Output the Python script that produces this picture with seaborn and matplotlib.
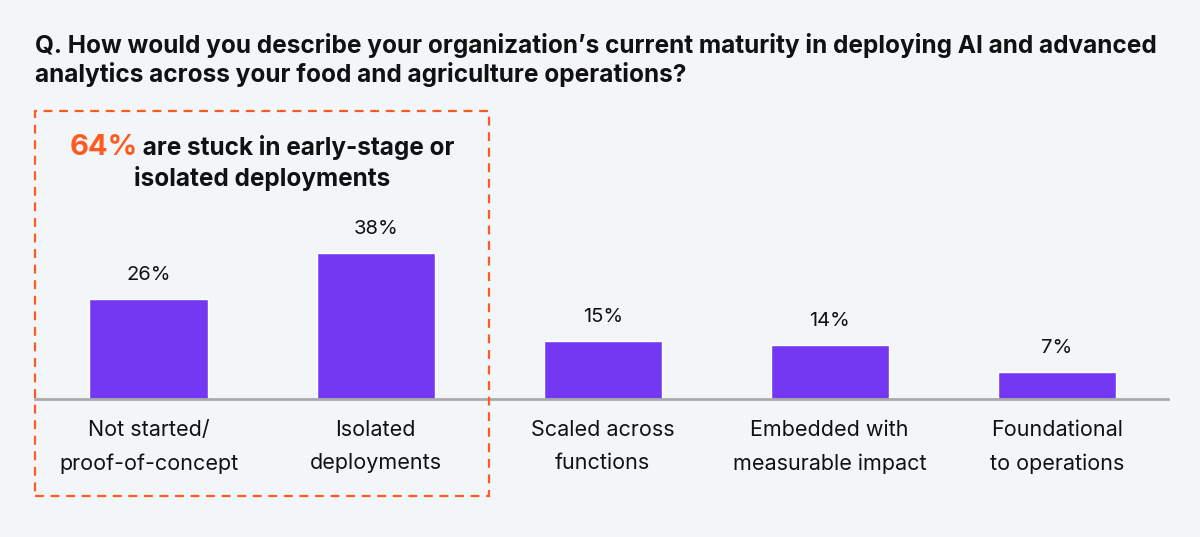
import matplotlib
matplotlib.use("Agg")
import matplotlib.pyplot as plt
import seaborn as sns
import pandas as pd
from matplotlib.patches import Rectangle

categories = ["Not started/\nproof-of-concept", "Isolated\ndeployments",
              "Scaled across\nfunctions", "Embedded with\nmeasurable impact",
              "Foundational\nto operations"]
values = [26, 38, 15, 14, 7]
value_labels = ["26%", "38%", "15%", "14%", "7%"]

title = ("Q. How would you describe your organization\u2019s current maturity in deploying AI and advanced\n"
         "analytics across your food and agriculture operations?")
callout_num = "64%"
callout_rest = " are stuck in early-stage or"
callout_line2 = "isolated deployments"

BG = "#F3F6F9"
PURPLE = "#7538F2"
ORANGE = "#FF5A1F"
FONT = "Inter"

sns.set_style("white")
plt.rcParams["font.family"] = [FONT, "DejaVu Sans"]

df = pd.DataFrame({"category": categories, "value": values})

fig = plt.figure(figsize=(12, 5.37), dpi=100)
fig.patch.set_facecolor(BG)
W, H = 1200, 537
ax = fig.add_axes([35 / W, (H - 399) / H, (1168 - 35) / W, (399 - 110) / H])
ax.set_facecolor(BG)

sns.barplot(data=df, x="category", y="value", color=PURPLE, width=0.52,
            saturation=1, ax=ax)
ax.set_xlim(-0.5, 4.49)
ax.set_ylim(0, 289 / 3.84)

for i, (v, lab) in enumerate(zip(values, value_labels)):
    ax.annotate(lab, (i, v), xytext=(0, 11), textcoords="offset points",
                ha="center", va="bottom", fontsize=14.5, color="#111111")

for s in ["top", "right", "left"]:
    ax.spines[s].set_visible(False)
ax.spines["bottom"].set_color("#AAAAAA")
ax.spines["bottom"].set_linewidth(2)
ax.set_yticks([])
ax.set_xlabel("")
ax.set_ylabel("")
ax.tick_params(axis="x", length=0, pad=15, labelsize=15.5, labelcolor="#111111")
for t in ax.get_xticklabels():
    t.set_linespacing(1.8)

fig.text(35 / W, 1 - 60 / H, title, fontsize=17.6, fontweight="bold",
         color="#111111", ha="left", va="center", linespacing=1.18)

# dashed callout box
box = Rectangle((35 / W, 1 - 496 / H), (489 - 35) / W, (496 - 111) / H,
                transform=fig.transFigure, fill=False, edgecolor=ORANGE,
                linestyle=(0, (4, 3)), linewidth=1.6, clip_on=False)
fig.add_artist(box)

cx = (35 + 489) / 2 / W
t_num = fig.text(0, 1 - 148 / H, callout_num, fontsize=21, fontweight="bold",
                 color=ORANGE, ha="left", va="center")
t_rest = fig.text(0, 1 - 148 / H, callout_rest, fontsize=17.5, fontweight="bold",
                  color="#111111", ha="left", va="center")
fig.canvas.draw()
r = fig.canvas.get_renderer()
w1 = t_num.get_window_extent(r).width / W
w2 = t_rest.get_window_extent(r).width / W
x0 = cx - (w1 + w2) / 2
t_num.set_x(x0)
t_rest.set_x(x0 + w1)
fig.text(cx, 1 - 179 / H, callout_line2, fontsize=17.5, fontweight="bold",
         color="#111111", ha="center", va="center")

fig.savefig("out.png", dpi=100, facecolor=BG)
